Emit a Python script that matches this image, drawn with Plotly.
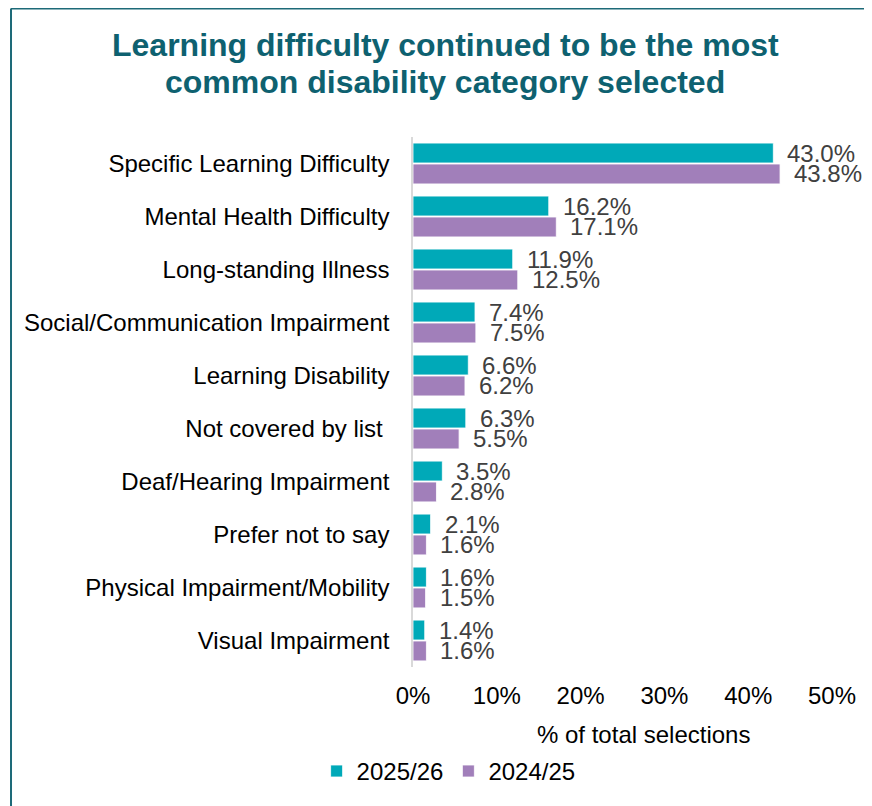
import plotly.graph_objects as go

categories = ["Specific Learning Difficulty", "Mental Health Difficulty", "Long-standing Illness",
              "Social/Communication Impairment", "Learning Disability", "Not covered by list ",
              "Deaf/Hearing Impairment", "Prefer not to say", "Physical Impairment/Mobility",
              "Visual Impairment"]
values_2025 = [43.0, 16.2, 11.9, 7.4, 6.6, 6.3, 3.5, 2.1, 1.6, 1.4]
values_2024 = [43.8, 17.1, 12.5, 7.5, 6.2, 5.5, 2.8, 1.6, 1.5, 1.6]
series_names = ["2025/26", "2024/25"]
colors = ["#00A9B8", "#A17FBA"]
x_ticks = [0, 10, 20, 30, 40, 50]
x_tick_labels = ["0%", "10%", "20%", "30%", "40%", "50%"]
x_axis_title = "% of total selections"
title_lines = ["Learning difficulty continued to be the most", "common disability category selected"]

FONT = "Liberation Sans, Arial, sans-serif"

fig = go.Figure()
for name, vals, col in zip(series_names, [values_2025, values_2024], colors):
    fig.add_trace(go.Bar(
        y=categories, x=vals, name=name, orientation="h",
        marker=dict(color=col, line=dict(color="white", width=0.8)),
        hoverinfo="x+y",
    ))

# data labels
bar_slot = (1 - 0.21) / 2
for k, vals in enumerate([values_2025, values_2024]):
    off = (k - 0.5) * bar_slot
    for i, v in enumerate(vals):
        fig.add_annotation(x=v, y=i + off, xref="x", yref="y", text=f"{v:.1f}%",
                           showarrow=False, xanchor="left", yanchor="middle", xshift=12,
                           font=dict(family=FONT, size=24, color="#404040"))

# title (two lines)
for yy, line in zip([1.1736, 1.1038], title_lines):
    fig.add_annotation(x=0.0764, y=yy, xref="paper", yref="paper", text=f"<b>{line}</b>",
                       showarrow=False, xanchor="center", yanchor="middle",
                       font=dict(family=FONT, size=32, color="#0E6170"))

# x axis title
fig.add_annotation(x=0.549, y=-0.128, xref="paper", yref="paper", text=x_axis_title,
                   showarrow=False, xanchor="center", yanchor="middle",
                   font=dict(family=FONT, size=24, color="black"))

# frame lines (top and left)
fig.add_shape(type="line", xref="paper", yref="paper", x0=-0.9594, x1=1.2, y0=1.2425, y1=1.2425,
              line=dict(color="#1D6A78", width=2))
fig.add_shape(type="line", xref="paper", yref="paper", x0=-0.9594, x1=-0.9594, y0=-0.5, y1=1.2425,
              line=dict(color="#1D6A78", width=2))

fig.update_layout(
    width=864, height=798,
    margin=dict(l=405, r=40, t=129, b=139),
    paper_bgcolor="white", plot_bgcolor="white",
    barmode="group", bargap=0.21, bargroupgap=0.05,
    font=dict(family=FONT, size=24, color="black"),
    xaxis=dict(range=[0, 50], tickvals=x_ticks, ticktext=x_tick_labels, showgrid=False,
               zeroline=False, showline=False, ticks="", ticklabelstandoff=12,
               tickfont=dict(size=24, color="black")),
    yaxis=dict(categoryorder="array", categoryarray=categories, autorange="reversed",
               showgrid=False, zeroline=False, showline=True, linecolor="#D9D9D9", linewidth=1.5,
               ticks="", ticklabelstandoff=17, tickfont=dict(size=24, color="black")),
    legend=dict(orientation="h", x=0.085, xanchor="center", y=-0.197, yanchor="middle",
                font=dict(size=24, color="black"), itemwidth=30, traceorder="normal"),
    showlegend=True,
)

fig.write_html("out.html")
